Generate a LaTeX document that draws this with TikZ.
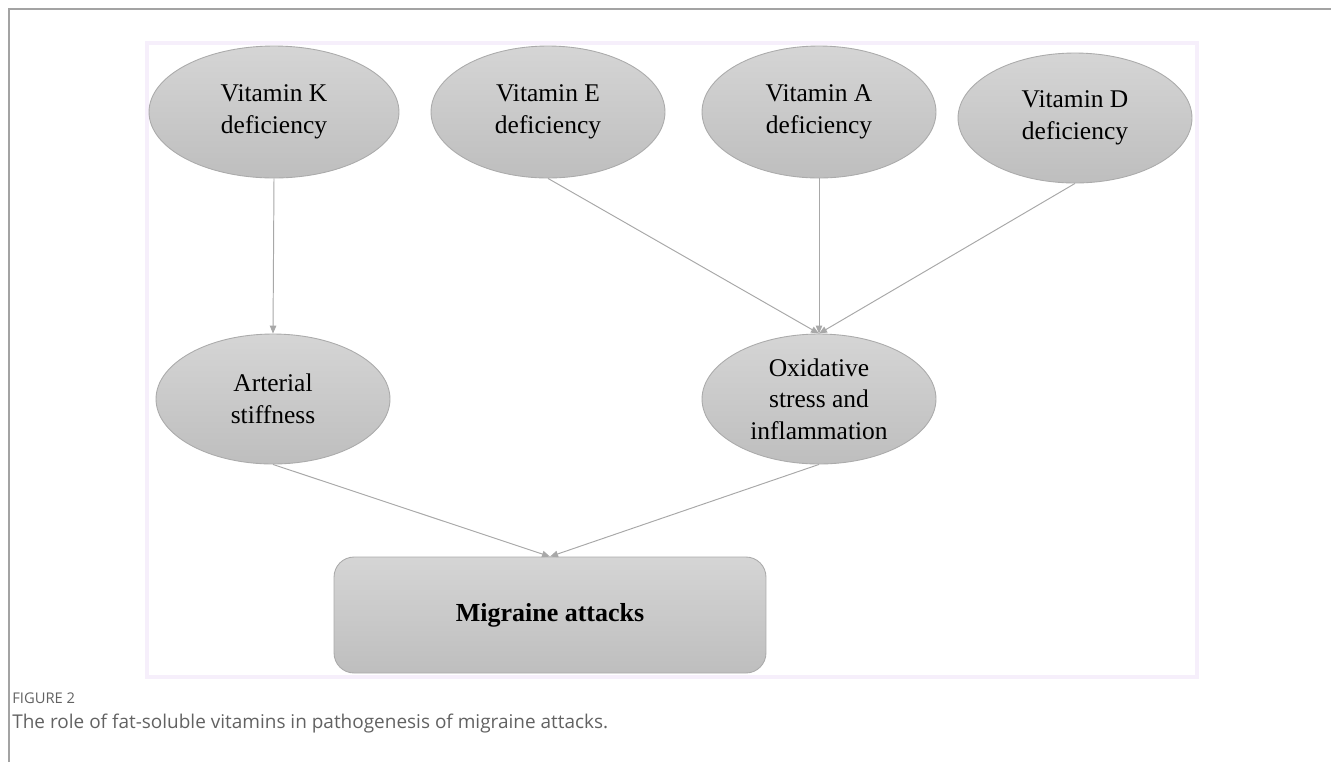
\documentclass[tikz,border=0pt]{standalone}
\usepackage{fontspec}
\setmainfont{Liberation Serif}
\newfontfamily\capfont{Open Sans}
\usepackage{xcolor}
\usepackage{tikz}
\usetikzlibrary{shapes.geometric,arrows.meta,positioning}

\definecolor{ovaltop}{HTML}{D5D5D5}
\definecolor{ovalbottom}{HTML}{BEBEBE}
\definecolor{ovalline}{HTML}{ABABAB}
\definecolor{arrowgray}{HTML}{A8A8A8}
\definecolor{framegray}{HTML}{A3A3A3}
\definecolor{framepink}{HTML}{F6EFFB}
\definecolor{captiongray}{HTML}{626262}

\begin{document}
\begin{tikzpicture}[x=0.02cm,y=-0.02cm,
    oval/.style={ellipse,draw=ovalline,line width=0.5pt,top color=ovaltop,bottom color=ovalbottom,
        inner sep=0pt,minimum width=4.68cm,minimum height=2.64cm,align=center,
        font=\fontsize{14.5}{18}\selectfont},
    outcome/.style={rectangle,rounded corners=0.4cm,draw=ovalline,line width=0.5pt,top color=ovaltop,
        bottom color=ovalbottom,minimum width=8.64cm,minimum height=2.32cm,
        font=\fontsize{14.8}{17.5}\selectfont\bfseries},
    link/.style={draw=arrowgray,line width=0.55pt,-{Triangle[length=1.6mm,width=1.3mm]}},
    caption/.style={anchor=base west,inner sep=0pt,text=captiongray}]
    \useasboundingbox (0,0) rectangle (1331,762);

    % Frames
    \draw[framegray,line width=0.8pt] (9,762) -- (9,9) -- (1331,9);
    \draw[framepink,line width=2.3pt] (147,43) rectangle (1197,677);

    % Vitamins
    \node[oval,minimum width=5cm] (vitK) at (274,112) {Vitamin K\\deficiency};
    \node[oval] (vitE) at (548,112) {Vitamin E\\deficiency};
    \node[oval] (vitA) at (819,112) {Vitamin A\\deficiency};
    \node[oval,minimum height=2.6cm] (vitD) at (1075,118) {Vitamin D\\deficiency};

    % Mechanisms
    \node[oval,minimum height=2.6cm] (stiff) at (273,399) {Arterial\\stiffness};
    \node[oval,minimum height=2.6cm] (oxid) at (819,399) {Oxidative\\stress and\\inflammation};

    % Outcome
    \node[outcome] (migraine) at (550,615) {Migraine attacks};

    % Links
    \draw[link] (vitK.south) -- (stiff.north);
    \draw[link] (vitE.south) -- (oxid.north);
    \draw[link] (vitA.south) -- (oxid.north);
    \draw[link] (vitD.south) -- (oxid.north);
    \draw[link] (stiff.south) -- (migraine.north);
    \draw[link] (oxid.south) -- (migraine.north);

    % Caption
    \node[caption,font=\capfont\fontsize{8.4}{10}\selectfont] (figno) at (12,703) {FIGURE 2};
    \node[caption,font=\capfont\fontsize{10.8}{13}\selectfont] (figtext) at (12,728)
        {The role of fat-soluble vitamins in pathogenesis of migraine attacks.};
\end{tikzpicture}
\end{document}
